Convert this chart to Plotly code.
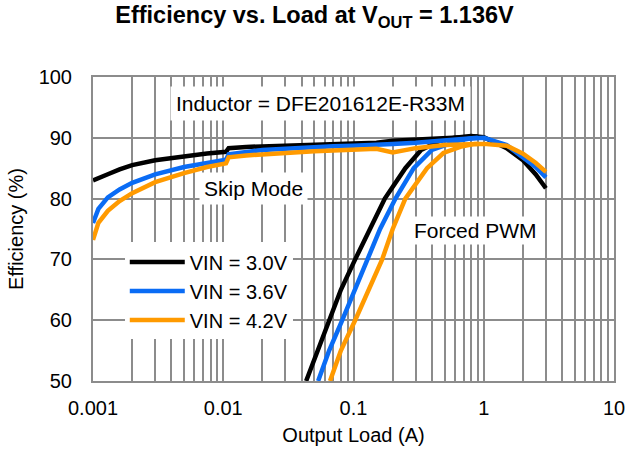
import plotly.graph_objects as go

FONT = "Liberation Sans, Arial, sans-serif"
GRID = "#8c8c8c"
COLORS = {"3.0": "#000000", "3.6": "#0a6cf5", "4.2": "#ff9a00"}

# Skip mode curves (load in A, efficiency in %)
skip_load = [0.001, 0.0011, 0.0013, 0.0016, 0.002, 0.003, 0.005, 0.0075, 0.0105, 0.011, 0.015,
             0.02, 0.03, 0.05, 0.07, 0.1, 0.15, 0.2, 0.3, 0.5, 0.7, 0.9]
skip_30 = [83.0, 83.3, 84.0, 84.8, 85.5, 86.3, 87.0, 87.4, 87.7, 88.3, 88.5,
           88.6, 88.7, 88.9, 89.0, 89.2, 89.2, 89.5, 89.7, 89.9, 90.1, 90.2]
skip_36 = [76.0, 78.3, 80.2, 81.5, 82.6, 84.0, 85.2, 85.9, 86.4, 87.3, 87.7,
           88.0, 88.2, 88.5, 88.6, 88.7, 88.8, 89.0, 89.2, 89.5, 89.8, 90.0]
skip_42 = [73.2, 76.0, 78.0, 79.6, 80.9, 82.7, 84.2, 85.2, 85.8, 86.8, 87.1,
           87.3, 87.5, 87.8, 87.9, 88.0, 88.2, 87.6, 88.3, 88.8, 89.0, 89.0]

# Forced PWM curves
pwm_load_30 = [0.0433, 0.05, 0.066, 0.08, 0.103, 0.13, 0.174, 0.25, 0.33, 0.46, 0.6, 0.8, 1.0, 1.5, 2.0, 2.5, 3.0]
pwm_30 = [50.0, 53.5, 60.0, 65.0, 70.0, 74.5, 80.0, 85.0, 88.0, 89.5, 90.0, 90.3, 90.1, 88.3, 86.3, 84.0, 81.7]
pwm_load_36 = [0.0535, 0.065, 0.082, 0.1, 0.127, 0.16, 0.21, 0.29, 0.40, 0.63, 0.8, 1.0, 1.5, 2.0, 2.5, 3.0]
pwm_36 = [50.0, 55.0, 60.0, 64.5, 70.0, 75.0, 80.0, 85.0, 88.0, 89.5, 89.9, 90.0, 88.8, 86.9, 85.2, 83.5]
pwm_load_42 = [0.066, 0.08, 0.103, 0.13, 0.166, 0.2, 0.25, 0.367, 0.49, 0.66, 0.85, 1.0, 1.5, 2.0, 2.5, 3.0]
pwm_42 = [50.0, 55.0, 60.0, 65.0, 70.0, 75.0, 80.0, 85.0, 87.5, 88.5, 89.0, 89.0, 88.7, 87.4, 85.9, 84.4]

x_tickvals = [0.001, 0.01, 0.1, 1, 10]
x_ticktext = ["0.001", "0.01", "0.1", "1", "10"]

fig = go.Figure()

series = [
    ("VIN = 3.0V", COLORS["3.0"], skip_30, pwm_load_30, pwm_30),
    ("VIN = 3.6V", COLORS["3.6"], skip_36, pwm_load_36, pwm_36),
    ("VIN = 4.2V", COLORS["4.2"], skip_42, pwm_load_42, pwm_42),
]
for name, color, skip_eff, pwm_load, pwm_eff in series:
    fig.add_trace(go.Scatter(x=skip_load, y=skip_eff, mode="lines", name=name,
                             line=dict(color=color, width=4.5), legendgroup=name))
    fig.add_trace(go.Scatter(x=pwm_load, y=pwm_eff, mode="lines", name=name,
                             line=dict(color=color, width=4.5), legendgroup=name, showlegend=False))

label_font = dict(family=FONT, size=21, color="black")
fig.add_annotation(x=-1.253, y=95.7, xref="x", yref="y", text="Inductor = DFE201612E-R33M",
                   showarrow=False, font=label_font, bgcolor="white", borderpad=5)
fig.add_annotation(x=-1.764, y=81.7, xref="x", yref="y", text="Skip Mode",
                   showarrow=False, font=label_font, bgcolor="white", borderpad=4)
fig.add_annotation(x=-0.067, y=74.7, xref="x", yref="y", text="Forced PWM",
                   showarrow=False, font=label_font, bgcolor="white", borderpad=2)

fig.update_layout(
    width=629, height=455,
    title=dict(text="Efficiency vs. Load at V<sub>OUT</sub> = 1.136V", x=0.5, xanchor="center",
               y=0.967, yanchor="middle",
               font=dict(family=FONT, size=23.5, color="black", weight="bold")),
    plot_bgcolor="white", paper_bgcolor="white",
    font=dict(family=FONT, size=20, color="black"),
    margin=dict(l=93, r=15, t=77, b=74),
    showlegend=True,
    legend=dict(x=0.061, y=0.456, xanchor="left", yanchor="top", bgcolor="white",
                font=dict(family=FONT, size=20, color="black"), tracegroupgap=0,
                itemwidth=55),
)
fig.update_xaxes(
    type="log", range=[-3, 1],
    tickvals=x_tickvals, ticktext=x_ticktext,
    showgrid=True, gridcolor=GRID, gridwidth=2,
    minor=dict(showgrid=True, gridcolor=GRID, gridwidth=2, dtick="D1"),
    showline=True, linecolor=GRID, linewidth=2, mirror=True,
    ticks="", zeroline=False, automargin=False, ticklabelstandoff=8,
    title=dict(text="Output Load (A)", font=dict(family=FONT, size=20), standoff=10),
    tickfont=dict(family=FONT, size=20),
)
fig.update_yaxes(
    range=[50, 100], dtick=10,
    showgrid=True, gridcolor=GRID, gridwidth=2,
    showline=True, linecolor=GRID, linewidth=2, mirror=True,
    ticks="", zeroline=False, automargin=False, ticklabelstandoff=15,
    title=dict(text="Efficiency (%)", font=dict(family=FONT, size=20), standoff=10),
    tickfont=dict(family=FONT, size=20),
)

# drop the default 8px page margin so the figure fills the window
fig.write_html("out.html", config={"displayModeBar": False},
               post_script="document.body.style.margin = '0px';")
